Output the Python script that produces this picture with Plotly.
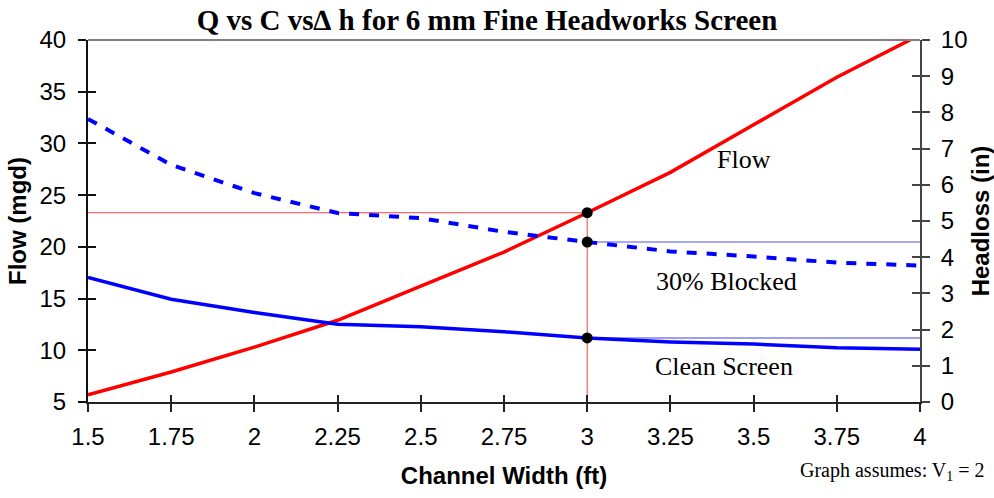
import plotly.graph_objects as go

width_ft = [1.5, 1.75, 2.0, 2.25, 2.5, 2.75, 3.0, 3.25, 3.5, 3.75, 4.0]
flow_mgd = [5.7, 7.9, 10.3, 12.9, 16.2, 19.5, 23.3, 27.2, 31.8, 36.4, 40.5]
clean_in = [3.44, 2.84, 2.47, 2.15, 2.08, 1.94, 1.77, 1.66, 1.60, 1.50, 1.46]
blocked_in = [7.82, 6.55, 5.77, 5.22, 5.08, 4.70, 4.42, 4.16, 4.02, 3.85, 3.77]

x_ticks = [1.5, 1.75, 2, 2.25, 2.5, 2.75, 3, 3.25, 3.5, 3.75, 4]
x_tick_text = ["1.5", "1.75", "2", "2.25", "2.5", "2.75", "3", "3.25", "3.5", "3.75", "4"]
y_ticks = [5, 10, 15, 20, 25, 30, 35, 40]
y2_ticks = list(range(0, 11))

design_width = 3.0
i_d = width_ft.index(design_width)
design_flow = flow_mgd[i_d]
design_clean = clean_in[i_d]
design_blocked = blocked_in[i_d]

fig = go.Figure()

# invisible traces that activate the overlay axes carrying the inner tick marks
fig.add_trace(go.Scatter(x=width_ft, y=flow_mgd, xaxis="x2", yaxis="y3", mode="markers",
                         marker=dict(opacity=0), hoverinfo="skip", showlegend=False))
fig.add_trace(go.Scatter(x=width_ft, y=clean_in, xaxis="x", yaxis="y4", mode="markers",
                         marker=dict(opacity=0), hoverinfo="skip", showlegend=False))

# reference lines
fig.add_trace(go.Scatter(x=[width_ft[0], design_width], y=[design_flow, design_flow], mode="lines",
                         line=dict(color="rgba(255,0,0,0.75)", width=1), yaxis="y", hoverinfo="skip"))
fig.add_trace(go.Scatter(x=[design_width, design_width], y=[y_ticks[0], design_flow], mode="lines",
                         line=dict(color="rgba(255,0,0,0.75)", width=1), yaxis="y", hoverinfo="skip"))
fig.add_trace(go.Scatter(x=[design_width, width_ft[-1]], y=[design_blocked, design_blocked], mode="lines",
                         line=dict(color="rgba(40,40,220,0.8)", width=1), yaxis="y2", hoverinfo="skip"))
fig.add_trace(go.Scatter(x=[design_width, width_ft[-1]], y=[design_clean, design_clean], mode="lines",
                         line=dict(color="rgba(40,40,220,0.6)", width=1.5), yaxis="y2", hoverinfo="skip"))

# curves
fig.add_trace(go.Scatter(x=width_ft, y=flow_mgd, mode="lines", name="Flow",
                         line=dict(color="#ff0000", width=3.5), yaxis="y"))
fig.add_trace(go.Scatter(x=width_ft, y=clean_in, mode="lines", name="Clean Screen",
                         line=dict(color="#0000ff", width=3.5), yaxis="y2"))
fig.add_trace(go.Scatter(x=width_ft, y=blocked_in, mode="lines", name="30% Blocked",
                         line=dict(color="#0000ff", width=4, dash="10px,10px"), yaxis="y2"))

# design points
fig.add_trace(go.Scatter(x=[design_width], y=[design_flow], mode="markers",
                         marker=dict(color="black", size=11), yaxis="y"))
fig.add_trace(go.Scatter(x=[design_width, design_width], y=[design_blocked, design_clean], mode="markers",
                         marker=dict(color="black", size=11), yaxis="y2"))

tick_font = dict(family="Liberation Sans, Arial", size=24, color="black")
title_font = dict(family="Liberation Sans, Arial", size=24, color="black")

fig.update_layout(
    width=994, height=498,
    margin=dict(l=88, r=74, t=40, b=96, autoexpand=False),
    paper_bgcolor="white", plot_bgcolor="white",
    showlegend=False,
    title=dict(text="<b>Q vs C vs∆ h for 6 mm Fine Headworks Screen</b>",
               font=dict(family="Liberation Serif, Times New Roman", size=29, color="black"),
               x=0.49, xanchor="center", y=0.96, yanchor="middle"),
    xaxis=dict(range=[1.5, 4], tickvals=x_ticks, ticktext=x_tick_text, ticks="outside", ticklen=8,
               tickwidth=1.5, tickcolor="#222", showline=True, linecolor="#222", linewidth=2,
               showgrid=False, zeroline=False, tickfont=tick_font, ticklabelstandoff=4,
               automargin=False,
               title=dict(text="<b>Channel Width (ft)</b>", font=title_font, standoff=18)),
    xaxis2=dict(range=[1.5, 4], overlaying="x", side="bottom", tickvals=x_ticks, ticks="inside",
                ticklen=7, tickwidth=1.5, tickcolor="#222", showticklabels=False, showline=False,
                showgrid=False, zeroline=False),
    yaxis=dict(range=[5, 40], tickvals=y_ticks, ticks="outside", ticklen=8, tickwidth=1.5, tickcolor="#111",
               showline=True, linecolor="#111", linewidth=2, showgrid=False, zeroline=False,
               tickfont=tick_font, ticklabelstandoff=7, automargin=False,
               title=dict(text="<b>Flow (mgd)</b>", font=title_font, standoff=6)),
    yaxis3=dict(range=[5, 40], overlaying="y", side="left", tickvals=y_ticks, ticks="inside", ticklen=8,
                tickwidth=1.5, tickcolor="#111", showticklabels=False, showline=False, showgrid=False,
                zeroline=False),
    yaxis2=dict(range=[0, 10], overlaying="y", side="right", tickvals=y2_ticks, ticks="outside", ticklen=8,
                tickwidth=1.5, tickcolor="#444", showline=True, linecolor="#444", linewidth=2,
                showgrid=False, zeroline=False, tickfont=tick_font, ticklabelstandoff=6, automargin=False,
                title=dict(text="<b>Headloss (in)</b>", font=title_font, standoff=8)),
    yaxis4=dict(range=[0, 10], overlaying="y", side="right", tickvals=y2_ticks, ticks="inside", ticklen=8,
                tickwidth=1.5, tickcolor="#444", showticklabels=False, showline=False, showgrid=False,
                zeroline=False),
    shapes=[dict(type="line", xref="paper", yref="paper", x0=0, x1=1, y0=1, y1=1,
                 line=dict(color="#808080", width=2))],
)

serif = dict(family="Liberation Serif, Times New Roman", size=26, color="black")
fig.add_annotation(x=3.47, y=28.4, xref="x", yref="y", text="Flow", showarrow=False, font=serif)
fig.add_annotation(x=3.42, y=3.33, xref="x", yref="y2", text="30% Blocked", showarrow=False, font=serif)
fig.add_annotation(x=3.41, y=0.99, xref="x", yref="y2", text="Clean Screen", showarrow=False, font=serif)
fig.add_annotation(x=1.08, y=-0.193, xref="paper", yref="paper", xanchor="right", yanchor="middle",
                   text="Graph assumes: V<sub>1</sub> = 2", showarrow=False,
                   font=dict(family="Liberation Serif, Times New Roman", size=20, color="black"))

fig.write_html("out.html", config={"displayModeBar": False},
               post_script="document.body.style.margin='0';document.body.style.padding='0';")
